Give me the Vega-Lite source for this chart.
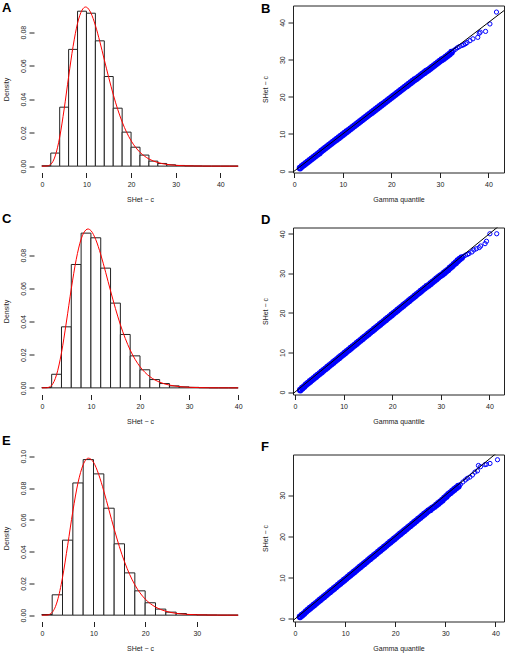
{
"$schema": "https://vega.github.io/schema/vega-lite/v6.json",
"padding": {"left": 2, "top": 1.5, "right": 0, "bottom": 0},
"background": "white",
"config": {
  "font": "Liberation Sans",
  "axis": {"grid": false, "labelFontSize": 7, "titleFontSize": 7, "titleFontWeight": "normal", "labelColor": "#222", "titleColor": "#222", "tickColor": "#222", "domain": false, "tickSize": 5, "labelPadding": 3, "labelFlush": false, "labelOverlap": false, "labelFont": "Liberation Sans", "titleFont": "Liberation Sans", "tickCount": 8},
  "axisX": {"titlePadding": 8},
  "axisY": {"labelAngle": -90, "labelAlign": "center", "labelBaseline": "bottom", "titlePadding": 10},
  "title": {"fontSize": 13, "fontWeight": "bold", "anchor": "start", "frame": "bounds", "color": "black", "offset": 1, "font": "Liberation Sans"},
  "view": {"stroke": null}
},
"datasets": {
  "histA": [{"lo":0,"hi":2,"density":0.0002},{"lo":2,"hi":4,"density":0.0078},{"lo":4,"hi":6,"density":0.0352},{"lo":6,"hi":8,"density":0.0697},{"lo":8,"hi":10,"density":0.0925},{"lo":10,"hi":12,"density":0.0913},{"lo":12,"hi":14,"density":0.0748},{"lo":14,"hi":16,"density":0.0535},{"lo":16,"hi":18,"density":0.0346},{"lo":18,"hi":20,"density":0.0203},{"lo":20,"hi":22,"density":0.0113},{"lo":22,"hi":24,"density":0.0066},{"lo":24,"hi":26,"density":0.0030},{"lo":26,"hi":28,"density":0.0016},{"lo":28,"hi":30,"density":0.0008},{"lo":30,"hi":32,"density":0.0004},{"lo":32,"hi":34,"density":0.0002},{"lo":34,"hi":36,"density":0.0001},{"lo":36,"hi":38,"density":0},{"lo":38,"hi":40,"density":0},{"lo":40,"hi":42,"density":0},{"lo":42,"hi":44,"density":0}],
  "curveA": [{"x":0,"density":0},{"x":1,"density":0.00004},{"x":2,"density":0.00112},{"x":3,"density":0.00611},{"x":4,"density":0.01729},{"x":5,"density":0.03408},{"x":6,"density":0.0534},{"x":7,"density":0.0715},{"x":8,"density":0.0853},{"x":9,"density":0.0931},{"x":9.8,"density":0.095},{"x":10,"density":0.0949},{"x":11,"density":0.0914},{"x":12,"density":0.084},{"x":13,"density":0.0743},{"x":14,"density":0.0635},{"x":15,"density":0.0528},{"x":16,"density":0.0428},{"x":17,"density":0.0339},{"x":18,"density":0.0264},{"x":19,"density":0.0202},{"x":20,"density":0.0152},{"x":21,"density":0.01127},{"x":22,"density":0.00826},{"x":23,"density":0.00598},{"x":24,"density":0.00429},{"x":25,"density":0.00304},{"x":26,"density":0.00214},{"x":27,"density":0.00149},{"x":28,"density":0.00103},{"x":29,"density":0.00071},{"x":30,"density":0.00048},{"x":32,"density":0.00022},{"x":34,"density":0.0001},{"x":36,"density":0.00005},{"x":38,"density":0.00002},{"x":40,"density":0.00001},{"x":44,"density":0}],
  "histC": [{"lo":0,"hi":2,"density":0.0002},{"lo":2,"hi":4,"density":0.0082},{"lo":4,"hi":6,"density":0.0368},{"lo":6,"hi":8,"density":0.0744},{"lo":8,"hi":10,"density":0.0933},{"lo":10,"hi":12,"density":0.0905},{"lo":12,"hi":14,"density":0.0722},{"lo":14,"hi":16,"density":0.0511},{"lo":16,"hi":18,"density":0.0322},{"lo":18,"hi":20,"density":0.0193},{"lo":20,"hi":22,"density":0.0109},{"lo":22,"hi":24,"density":0.0050},{"lo":24,"hi":26,"density":0.0026},{"lo":26,"hi":28,"density":0.0012},{"lo":28,"hi":30,"density":0.0006},{"lo":30,"hi":32,"density":0.0003},{"lo":32,"hi":34,"density":0.0001},{"lo":34,"hi":36,"density":0},{"lo":36,"hi":38,"density":0},{"lo":38,"hi":40,"density":0}],
  "curveC": [{"x":0,"density":0},{"x":1,"density":0.00007},{"x":2,"density":0.00158},{"x":3,"density":0.00795},{"x":4,"density":0.02115},{"x":5,"density":0.0397},{"x":6,"density":0.0598},{"x":7,"density":0.0774},{"x":8,"density":0.0897},{"x":9,"density":0.0953},{"x":9.4,"density":0.0958},{"x":10,"density":0.0948},{"x":11,"density":0.0893},{"x":12,"density":0.0804},{"x":13,"density":0.0697},{"x":14,"density":0.0585},{"x":15,"density":0.0478},{"x":16,"density":0.0381},{"x":17,"density":0.0298},{"x":18,"density":0.0228},{"x":19,"density":0.0172},{"x":20,"density":0.01277},{"x":21,"density":0.00936},{"x":22,"density":0.00677},{"x":23,"density":0.00485},{"x":24,"density":0.00343},{"x":25,"density":0.00241},{"x":26,"density":0.00168},{"x":27,"density":0.00116},{"x":28,"density":0.00079},{"x":29,"density":0.00054},{"x":30,"density":0.00036},{"x":32,"density":0.00016},{"x":34,"density":0.00007},{"x":36,"density":0.00003},{"x":38,"density":0.00001},{"x":40,"density":0}],
  "histE": [{"lo":0,"hi":2,"density":0.0004},{"lo":2,"hi":4,"density":0.0128},{"lo":4,"hi":6,"density":0.0472},{"lo":6,"hi":8,"density":0.0832},{"lo":8,"hi":10,"density":0.0979},{"lo":10,"hi":12,"density":0.0889},{"lo":12,"hi":14,"density":0.0673},{"lo":14,"hi":16,"density":0.0449},{"lo":16,"hi":18,"density":0.0266},{"lo":18,"hi":20,"density":0.0153},{"lo":20,"hi":22,"density":0.0078},{"lo":22,"hi":24,"density":0.0038},{"lo":24,"hi":26,"density":0.0019},{"lo":26,"hi":28,"density":0.0010},{"lo":28,"hi":30,"density":0.0004},{"lo":30,"hi":32,"density":0.0002},{"lo":32,"hi":34,"density":0.0001},{"lo":34,"hi":36,"density":0},{"lo":36,"hi":38,"density":0}],
  "curveE": [{"x":0,"density":0},{"x":1,"density":0.00007},{"x":2,"density":0.00176},{"x":3,"density":0.0089},{"x":4,"density":0.02364},{"x":5,"density":0.044},{"x":6,"density":0.0654},{"x":7,"density":0.0833},{"x":8,"density":0.0947},{"x":9,"density":0.0988},{"x":10,"density":0.0962},{"x":11,"density":0.0886},{"x":12,"density":0.078},{"x":13,"density":0.0661},{"x":14,"density":0.0542},{"x":15,"density":0.0432},{"x":16,"density":0.0336},{"x":17,"density":0.0256},{"x":18,"density":0.0191},{"x":19,"density":0.014},{"x":20,"density":0.01016},{"x":21,"density":0.00724},{"x":22,"density":0.00511},{"x":23,"density":0.00356},{"x":24,"density":0.00245},{"x":25,"density":0.00167},{"x":26,"density":0.00113},{"x":27,"density":0.00076},{"x":28,"density":0.00051},{"x":30,"density":0.00022},{"x":32,"density":0.00009},{"x":34,"density":0.00004},{"x":36,"density":0.00002},{"x":38,"density":0}],
  "qqB": [{"q":1.2,"s":0.8},{"q":1.6,"s":1.3},{"q":2.0,"s":1.7},{"q":2.4,"s":2.1},{"q":2.8,"s":2.5},{"q":3.2,"s":2.9},{"q":3.6,"s":3.3},{"q":4.0,"s":3.7},{"q":4.4,"s":4.1},{"q":4.8,"s":4.5},{"q":5.2,"s":4.9},{"q":5.6,"s":5.4},{"q":6.0,"s":5.8},{"q":6.4,"s":6.2},{"q":6.8,"s":6.6},{"q":7.2,"s":7.0},{"q":7.6,"s":7.4},{"q":8.0,"s":7.8},{"q":8.4,"s":8.2},{"q":8.8,"s":8.6},{"q":9.2,"s":9.0},{"q":9.6,"s":9.4},{"q":10.0,"s":9.8},{"q":10.4,"s":10.2},{"q":10.8,"s":10.6},{"q":11.2,"s":11.0},{"q":11.6,"s":11.4},{"q":12.0,"s":11.8},{"q":12.4,"s":12.2},{"q":12.8,"s":12.6},{"q":13.2,"s":13.0},{"q":13.6,"s":13.4},{"q":14.0,"s":13.8},{"q":14.4,"s":14.2},{"q":14.8,"s":14.6},{"q":15.2,"s":15.0},{"q":15.6,"s":15.4},{"q":16.0,"s":15.8},{"q":16.4,"s":16.2},{"q":16.8,"s":16.6},{"q":17.2,"s":17.0},{"q":17.6,"s":17.4},{"q":18.0,"s":17.8},{"q":18.4,"s":18.2},{"q":18.8,"s":18.6},{"q":19.2,"s":19.0},{"q":19.6,"s":19.4},{"q":20.0,"s":19.8},{"q":20.4,"s":20.2},{"q":20.8,"s":20.6},{"q":21.2,"s":21.0},{"q":21.6,"s":21.4},{"q":22.0,"s":21.8},{"q":22.4,"s":22.2},{"q":22.8,"s":22.6},{"q":23.2,"s":23.0},{"q":23.6,"s":23.4},{"q":24.0,"s":23.8},{"q":24.4,"s":24.2},{"q":24.8,"s":24.6},{"q":25.2,"s":24.9},{"q":25.6,"s":25.3},{"q":26.0,"s":25.7},{"q":26.4,"s":26.1},{"q":26.8,"s":26.5},{"q":27.2,"s":26.9},{"q":27.6,"s":27.2},{"q":28.0,"s":27.6},{"q":28.4,"s":28.0},{"q":28.8,"s":28.4},{"q":29.2,"s":28.8},{"q":29.6,"s":29.2},{"q":30.0,"s":29.6},{"q":30.4,"s":30.0},{"q":30.8,"s":30.3},{"q":31.2,"s":30.7},{"q":31.6,"s":31.1},{"q":32.0,"s":31.5},{"q":32.4,"s":32.0},{"q":32.8,"s":32.4},{"q":33.2,"s":32.8},{"q":33.6,"s":33.2},{"q":34.0,"s":33.5},{"q":34.5,"s":33.8},{"q":34.9,"s":34.0},{"q":35.3,"s":34.3},{"q":35.6,"s":34.6},{"q":36.2,"s":35.1},{"q":36.8,"s":35.6},{"q":37.8,"s":36.0},{"q":38.1,"s":37.1},{"q":38.3,"s":37.4},{"q":39.4,"s":37.6},{"q":40.3,"s":39.6},{"q":41.65,"s":42.8}],
  "qqD": [{"q":1.1,"s":0.5},{"q":1.5,"s":1.0},{"q":1.9,"s":1.4},{"q":2.3,"s":1.9},{"q":2.7,"s":2.3},{"q":3.1,"s":2.7},{"q":3.5,"s":3.1},{"q":3.9,"s":3.5},{"q":4.3,"s":3.9},{"q":4.7,"s":4.3},{"q":5.1,"s":4.7},{"q":5.5,"s":5.1},{"q":5.9,"s":5.5},{"q":6.3,"s":5.9},{"q":6.7,"s":6.3},{"q":7.1,"s":6.7},{"q":7.5,"s":7.1},{"q":7.9,"s":7.5},{"q":8.3,"s":7.9},{"q":8.7,"s":8.3},{"q":9.1,"s":8.7},{"q":9.5,"s":9.1},{"q":9.9,"s":9.5},{"q":10.3,"s":9.9},{"q":10.7,"s":10.3},{"q":11.1,"s":10.7},{"q":11.5,"s":11.1},{"q":11.9,"s":11.5},{"q":12.3,"s":11.9},{"q":12.7,"s":12.3},{"q":13.1,"s":12.7},{"q":13.5,"s":13.1},{"q":13.9,"s":13.5},{"q":14.3,"s":13.9},{"q":14.7,"s":14.3},{"q":15.1,"s":14.7},{"q":15.5,"s":15.1},{"q":15.9,"s":15.5},{"q":16.3,"s":15.9},{"q":16.7,"s":16.3},{"q":17.1,"s":16.7},{"q":17.5,"s":17.1},{"q":17.9,"s":17.5},{"q":18.3,"s":17.9},{"q":18.7,"s":18.3},{"q":19.1,"s":18.7},{"q":19.5,"s":19.1},{"q":19.9,"s":19.5},{"q":20.3,"s":19.9},{"q":20.7,"s":20.3},{"q":21.1,"s":20.7},{"q":21.5,"s":21.1},{"q":21.9,"s":21.5},{"q":22.3,"s":21.9},{"q":22.7,"s":22.3},{"q":23.1,"s":22.7},{"q":23.5,"s":23.1},{"q":23.9,"s":23.5},{"q":24.3,"s":23.9},{"q":24.7,"s":24.3},{"q":25.1,"s":24.7},{"q":25.5,"s":25.1},{"q":25.9,"s":25.5},{"q":26.3,"s":25.9},{"q":26.7,"s":26.3},{"q":27.1,"s":26.7},{"q":27.5,"s":27.0},{"q":27.9,"s":27.4},{"q":28.3,"s":27.8},{"q":28.7,"s":28.2},{"q":29.1,"s":28.6},{"q":29.5,"s":29.0},{"q":29.9,"s":29.4},{"q":30.3,"s":29.7},{"q":30.7,"s":30.1},{"q":31.1,"s":30.5},{"q":31.5,"s":30.9},{"q":31.9,"s":31.4},{"q":32.3,"s":31.8},{"q":32.7,"s":32.3},{"q":33.1,"s":32.7},{"q":33.5,"s":33.2},{"q":33.9,"s":33.6},{"q":34.3,"s":34.0},{"q":34.7,"s":34.3},{"q":35.1,"s":34.6},{"q":35.5,"s":34.8},{"q":35.8,"s":35.0},{"q":36.4,"s":35.4},{"q":36.8,"s":35.9},{"q":37.3,"s":36.2},{"q":37.9,"s":36.5},{"q":38.2,"s":36.9},{"q":39.1,"s":37.5},{"q":39.4,"s":38.1},{"q":40.1,"s":40.0},{"q":41.5,"s":40.0}],
  "qqF": [{"q":1.0,"s":0.5},{"q":1.4,"s":0.9},{"q":1.8,"s":1.3},{"q":2.2,"s":1.8},{"q":2.6,"s":2.2},{"q":3.0,"s":2.6},{"q":3.4,"s":3.0},{"q":3.8,"s":3.4},{"q":4.2,"s":3.8},{"q":4.6,"s":4.2},{"q":5.0,"s":4.6},{"q":5.4,"s":5.0},{"q":5.8,"s":5.4},{"q":6.2,"s":5.8},{"q":6.6,"s":6.2},{"q":7.0,"s":6.6},{"q":7.4,"s":7.0},{"q":7.8,"s":7.4},{"q":8.2,"s":7.8},{"q":8.6,"s":8.2},{"q":9.0,"s":8.6},{"q":9.4,"s":9.0},{"q":9.8,"s":9.4},{"q":10.2,"s":9.8},{"q":10.6,"s":10.2},{"q":11.0,"s":10.6},{"q":11.4,"s":11.0},{"q":11.8,"s":11.4},{"q":12.2,"s":11.8},{"q":12.6,"s":12.2},{"q":13.0,"s":12.6},{"q":13.4,"s":13.0},{"q":13.8,"s":13.4},{"q":14.2,"s":13.8},{"q":14.6,"s":14.2},{"q":15.0,"s":14.6},{"q":15.4,"s":15.0},{"q":15.8,"s":15.4},{"q":16.2,"s":15.8},{"q":16.6,"s":16.2},{"q":17.0,"s":16.6},{"q":17.4,"s":17.0},{"q":17.8,"s":17.4},{"q":18.2,"s":17.8},{"q":18.6,"s":18.2},{"q":19.0,"s":18.6},{"q":19.4,"s":19.0},{"q":19.8,"s":19.4},{"q":20.2,"s":19.8},{"q":20.6,"s":20.2},{"q":21.0,"s":20.6},{"q":21.4,"s":21.0},{"q":21.8,"s":21.4},{"q":22.2,"s":21.8},{"q":22.6,"s":22.2},{"q":23.0,"s":22.6},{"q":23.4,"s":23.0},{"q":23.8,"s":23.4},{"q":24.2,"s":23.8},{"q":24.6,"s":24.2},{"q":25.0,"s":24.6},{"q":25.4,"s":25.0},{"q":25.8,"s":25.4},{"q":26.2,"s":25.8},{"q":26.6,"s":26.2},{"q":27.0,"s":26.5},{"q":27.4,"s":26.9},{"q":27.8,"s":27.2},{"q":28.2,"s":27.6},{"q":28.6,"s":28.0},{"q":29.0,"s":28.4},{"q":29.4,"s":28.8},{"q":29.8,"s":29.3},{"q":30.2,"s":29.7},{"q":30.6,"s":30.2},{"q":31.0,"s":30.6},{"q":31.4,"s":31.0},{"q":31.8,"s":31.4},{"q":32.2,"s":31.8},{"q":32.6,"s":32.2},{"q":33.0,"s":32.6},{"q":33.5,"s":33.2},{"q":34.0,"s":33.7},{"q":34.4,"s":34.1},{"q":34.9,"s":34.4},{"q":35.4,"s":34.9},{"q":35.9,"s":35.6},{"q":36.4,"s":35.9},{"q":36.6,"s":37.2},{"q":37.0,"s":36.9},{"q":37.9,"s":37.4},{"q":38.2,"s":37.5},{"q":38.9,"s":37.7},{"q":40.4,"s":38.6}],
  "diag": [{"q":-5,"s":-5},{"q":50,"s":50}]
},
"spacing": 9,
"vconcat": [
 {"hconcat": [
  {"title": {"text": "A", "offset": -10}, "width": 212, "height": 167,
   "layer": [
    {"data": {"name": "histA"}, "mark": {"type": "rect", "fill": "white", "stroke": "#222", "strokeWidth": 1},
     "encoding": {
      "x": {"field": "lo", "type": "quantitative", "scale": {"domain": [-1.76, 45.76], "nice": false, "zero": false}, "axis": {"values": [0, 10, 20, 30, 40], "title": "SHet − c"}},
      "x2": {"field": "hi"},
      "y": {"field": "density", "type": "quantitative", "scale": {"domain": [-0.0038, 0.0959], "nice": false, "zero": false}, "axis": {"values": [0, 0.02, 0.04, 0.06, 0.08], "format": ".2f", "title": "Density", "tickCount": 8}},
      "y2": {"datum": 0}}},
    {"data": {"name": "curveA"}, "mark": {"type": "line", "color": "red", "strokeWidth": 1, "interpolate": "monotone"},
     "encoding": {"x": {"field": "x", "type": "quantitative"}, "y": {"field": "density", "type": "quantitative"}}},
    {"mark": {"type": "rule", "color": "#222"}, "encoding": {"x": {"datum": 0}, "x2": {"datum": 40}, "y": {"datum": -0.0038}}},
    {"mark": {"type": "rule", "color": "#222"}, "encoding": {"x": {"datum": -1.76}, "y": {"datum": 0}, "y2": {"datum": 0.08}}}
   ]},
  {"title": {"text": "B", "offset": -10}, "width": 211, "height": 167, "view": {"stroke": "#222", "strokeWidth": 1},
   "layer": [
    {"data": {"name": "qqB"}, "transform": [{"filter": "datum.q < 32.5"}], "mark": {"type": "point", "shape": "circle", "filled": false, "color": "blue", "size": 20, "strokeWidth": 2.2, "opacity": 1},
     "encoding": {
      "x": {"field": "q", "type": "quantitative", "scale": {"domain": [-0.25, 43.2], "nice": false, "zero": false}, "axis": {"values": [0, 10, 20, 30, 40], "title": "Gamma quantile"}},
      "y": {"field": "s", "type": "quantitative", "scale": {"domain": [-0.38, 44.57], "nice": false, "zero": false}, "axis": {"values": [0, 10, 20, 30, 40], "title": "SHet − c"}}}},
    {"data": {"name": "qqB"}, "transform": [{"filter": "datum.q >= 32.5"}], "mark": {"type": "point", "shape": "circle", "filled": false, "color": "blue", "size": 18, "strokeWidth": 1, "opacity": 1},
     "encoding": {"x": {"field": "q", "type": "quantitative"}, "y": {"field": "s", "type": "quantitative"}}},
    {"data": {"name": "diag"}, "mark": {"type": "line", "color": "black", "strokeWidth": 1, "clip": true},
     "encoding": {"x": {"field": "q", "type": "quantitative"}, "y": {"field": "s", "type": "quantitative"}}}
   ]}
 ], "spacing": 14},
 {"hconcat": [
  {"title": {"text": "C"}, "width": 212, "height": 167,
   "layer": [
    {"data": {"name": "histC"}, "mark": {"type": "rect", "fill": "white", "stroke": "#222", "strokeWidth": 1},
     "encoding": {
      "x": {"field": "lo", "type": "quantitative", "scale": {"domain": [-1.6, 41.6], "nice": false, "zero": false}, "axis": {"values": [0, 10, 20, 30, 40], "title": "SHet − c"}},
      "x2": {"field": "hi"},
      "y": {"field": "density", "type": "quantitative", "scale": {"domain": [-0.004, 0.0967], "nice": false, "zero": false}, "axis": {"values": [0, 0.02, 0.04, 0.06, 0.08], "format": ".2f", "title": "Density", "tickCount": 8}},
      "y2": {"datum": 0}}},
    {"data": {"name": "curveC"}, "mark": {"type": "line", "color": "red", "strokeWidth": 1, "interpolate": "monotone"},
     "encoding": {"x": {"field": "x", "type": "quantitative"}, "y": {"field": "density", "type": "quantitative"}}},
    {"mark": {"type": "rule", "color": "#222"}, "encoding": {"x": {"datum": 0}, "x2": {"datum": 40}, "y": {"datum": -0.004}}},
    {"mark": {"type": "rule", "color": "#222"}, "encoding": {"x": {"datum": -1.6}, "y": {"datum": 0}, "y2": {"datum": 0.08}}}
   ]},
  {"title": {"text": "D"}, "width": 211, "height": 167, "view": {"stroke": "#222", "strokeWidth": 1},
   "layer": [
    {"data": {"name": "qqD"}, "transform": [{"filter": "datum.q < 34.5"}], "mark": {"type": "point", "shape": "circle", "filled": false, "color": "blue", "size": 20, "strokeWidth": 2.2, "opacity": 1},
     "encoding": {
      "x": {"field": "q", "type": "quantitative", "scale": {"domain": [-0.4, 43.0], "nice": false, "zero": false}, "axis": {"values": [0, 10, 20, 30, 40], "title": "Gamma quantile"}},
      "y": {"field": "s", "type": "quantitative", "scale": {"domain": [-0.61, 41.58], "nice": false, "zero": false}, "axis": {"values": [0, 10, 20, 30, 40], "title": "SHet − c"}}}},
    {"data": {"name": "qqD"}, "transform": [{"filter": "datum.q >= 34.5"}], "mark": {"type": "point", "shape": "circle", "filled": false, "color": "blue", "size": 18, "strokeWidth": 1, "opacity": 1},
     "encoding": {"x": {"field": "q", "type": "quantitative"}, "y": {"field": "s", "type": "quantitative"}}},
    {"data": {"name": "diag"}, "mark": {"type": "line", "color": "black", "strokeWidth": 1, "clip": true},
     "encoding": {"x": {"field": "q", "type": "quantitative"}, "y": {"field": "s", "type": "quantitative"}}}
   ]}
 ], "spacing": 14},
 {"hconcat": [
  {"title": {"text": "E"}, "width": 212, "height": 167,
   "layer": [
    {"data": {"name": "histE"}, "mark": {"type": "rect", "fill": "white", "stroke": "#222", "strokeWidth": 1},
     "encoding": {
      "x": {"field": "lo", "type": "quantitative", "scale": {"domain": [-1.52, 39.52], "nice": false, "zero": false}, "axis": {"values": [0, 10, 20, 30], "title": "SHet − c"}},
      "x2": {"field": "hi"},
      "y": {"field": "density", "type": "quantitative", "scale": {"domain": [-0.004, 0.1011], "nice": false, "zero": false}, "axis": {"values": [0, 0.02, 0.04, 0.06, 0.08, 0.1], "format": ".2f", "title": "Density", "tickCount": 8}},
      "y2": {"datum": 0}}},
    {"data": {"name": "curveE"}, "mark": {"type": "line", "color": "red", "strokeWidth": 1, "interpolate": "monotone"},
     "encoding": {"x": {"field": "x", "type": "quantitative"}, "y": {"field": "density", "type": "quantitative"}}},
    {"mark": {"type": "rule", "color": "#222"}, "encoding": {"x": {"datum": 0}, "x2": {"datum": 30}, "y": {"datum": -0.004}}},
    {"mark": {"type": "rule", "color": "#222"}, "encoding": {"x": {"datum": -1.52}, "y": {"datum": 0}, "y2": {"datum": 0.1}}}
   ]},
  {"title": {"text": "F"}, "width": 211, "height": 167, "view": {"stroke": "#222", "strokeWidth": 1},
   "layer": [
    {"data": {"name": "qqF"}, "transform": [{"filter": "datum.q < 32.8"}], "mark": {"type": "point", "shape": "circle", "filled": false, "color": "blue", "size": 20, "strokeWidth": 2.2, "opacity": 1},
     "encoding": {
      "x": {"field": "q", "type": "quantitative", "scale": {"domain": [-0.4, 41.7], "nice": false, "zero": false}, "axis": {"values": [0, 10, 20, 30, 40], "title": "Gamma quantile"}},
      "y": {"field": "s", "type": "quantitative", "scale": {"domain": [-0.63, 39.87], "nice": false, "zero": false}, "axis": {"values": [0, 10, 20, 30], "title": "SHet − c"}}}},
    {"data": {"name": "qqF"}, "transform": [{"filter": "datum.q >= 32.8"}], "mark": {"type": "point", "shape": "circle", "filled": false, "color": "blue", "size": 18, "strokeWidth": 1, "opacity": 1},
     "encoding": {"x": {"field": "q", "type": "quantitative"}, "y": {"field": "s", "type": "quantitative"}}},
    {"data": {"name": "diag"}, "mark": {"type": "line", "color": "black", "strokeWidth": 1, "clip": true},
     "encoding": {"x": {"field": "q", "type": "quantitative"}, "y": {"field": "s", "type": "quantitative"}}}
   ]}
 ], "spacing": 14}
]
}
